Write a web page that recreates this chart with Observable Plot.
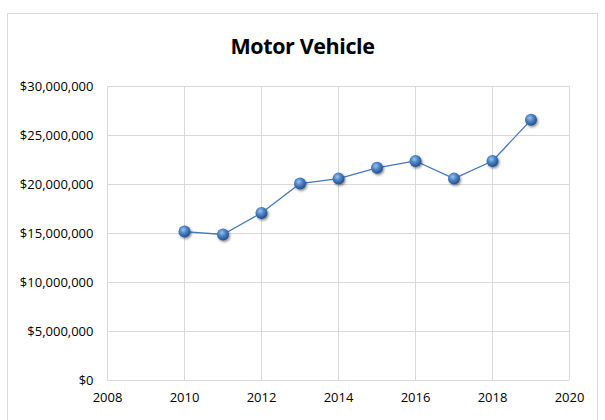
<!DOCTYPE html>
<html>
<head>
<meta charset="utf-8">
<script src="https://cdn.jsdelivr.net/npm/d3@7"></script>
<script src="https://cdn.jsdelivr.net/npm/@observablehq/plot@0.6"></script>
<style>
  body { margin: 0; background: #fff; }
  #wrap { position: relative; width: 605px; height: 420px; overflow: hidden; font-family: "Open Sans", "Liberation Sans", sans-serif; }
  #frame { position: absolute; left: 7px; top: 13px; width: 591px; height: 440px; border: 1px solid #d9d9d9; box-sizing: border-box; }
  #title { position: absolute; left: 0; width: 605px; top: 31px; text-align: center; font-size: 21.5px; font-weight: bold; color: #000; letter-spacing: -0.4px; }
  #chart { position: absolute; left: 0; top: 0; }
</style>
</head>
<body>
<div id="wrap">
  <div id="frame"></div>
  <div id="chart"></div>
  <div id="title">Motor Vehicle</div>
</div>
<script>
const years = [2010, 2011, 2012, 2013, 2014, 2015, 2016, 2017, 2018, 2019];
const values = [15200000, 14900000, 17100000, 20100000, 20600000, 21700000, 22400000, 20600000, 22400000, 26600000];
const xTicks = [2008, 2010, 2012, 2014, 2016, 2018, 2020];
const yTicks = [0, 5000000, 10000000, 15000000, 20000000, 25000000, 30000000];

const data = years.map((y, i) => ({year: y, value: values[i]}));
const fmt = d => "$" + d3.format(",")(d);

const plot = Plot.plot({
  width: 605,
  height: 420,
  marginLeft: 107,
  marginRight: 36,
  marginTop: 86,
  marginBottom: 40,
  style: { fontFamily: "'Open Sans', 'Liberation Sans', sans-serif", fontSize: "13px", color: "#000", background: "transparent" },
  x: { domain: [2008, 2020], ticks: xTicks, tickFormat: d => String(d), tickSize: 0, tickPadding: 12, label: null },
  y: { domain: [0, 30000000], ticks: yTicks, tickFormat: fmt, tickSize: 0, tickPadding: 14, label: null },
  marks: [
    Plot.gridX(xTicks, { stroke: "#d9d9d9", strokeOpacity: 1, strokeWidth: 1 }),
    Plot.gridY(yTicks, { stroke: "#d9d9d9", strokeOpacity: 1, strokeWidth: 1 }),
    Plot.axisX({ ticks: xTicks, tickFormat: d => String(d), tickSize: 0, tickPadding: 12, fill: "#000" }),
    Plot.axisY({ ticks: yTicks, tickFormat: fmt, tickSize: 0, tickPadding: 14, fill: "#000" }),
    Plot.line(data, { x: "year", y: "value", stroke: "#4576bd", strokeWidth: 1.3 }),
    Plot.dot(data, { x: "year", y: "value", r: 6, fill: "url(#ball)", stroke: "none", className: "balls" })
  ]
});

// add gradient + shadow defs
const svg = d3.select(plot);
const defs = svg.insert("defs", ":first-child");
const g = defs.append("radialGradient").attr("id", "ball").attr("cx", "40%").attr("cy", "35%").attr("r", "65%");
g.append("stop").attr("offset", "0%").attr("stop-color", "#9cc3f0");
g.append("stop").attr("offset", "45%").attr("stop-color", "#4f86c6");
g.append("stop").attr("offset", "100%").attr("stop-color", "#1f4e8c");
const f = defs.append("filter").attr("id", "shadow").attr("x", "-50%").attr("y", "-50%").attr("width", "200%").attr("height", "200%");
f.append("feDropShadow").attr("dx", 1.2).attr("dy", 1.5).attr("stdDeviation", 1.2).attr("flood-color", "#000").attr("flood-opacity", 0.45);
svg.selectAll("g.balls circle").attr("filter", "url(#shadow)");

document.getElementById("chart").appendChild(plot);
</script>
</body>
</html>
